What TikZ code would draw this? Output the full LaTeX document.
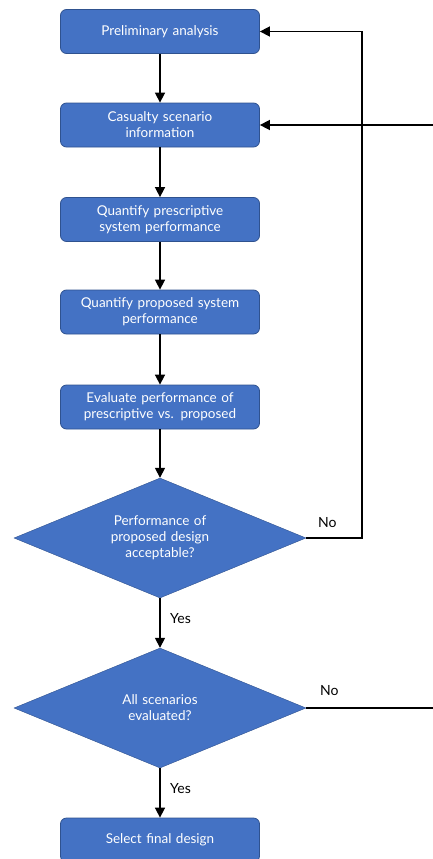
\documentclass[tikz,border=0pt]{standalone}
\usepackage{fontspec}
\setmainfont{Lato}
\usetikzlibrary{shapes.geometric,arrows.meta}

\definecolor{boxblue}{HTML}{4472C4}
\definecolor{boxedge}{HTML}{2F528F}

\tikzstyle{stepbox}=[rectangle, rounded corners=6pt, draw=boxedge, thick, fill=boxblue, text=white, minimum width=199pt, minimum height=44pt, text width=190pt, align=center, inner sep=0pt, font=\fontsize{13.5}{16}\selectfont]
\tikzstyle{check}=[diamond, aspect=2.43, draw=boxedge, fill=boxblue, text=white, minimum width=292pt, minimum height=120pt, text width=130pt, align=center, inner sep=0pt, font=\fontsize{13.5}{16}\selectfont]
\tikzstyle{flow}=[-{Triangle[width=10pt,length=10pt]}, line width=1.6pt]
\tikzstyle{answer}=[anchor=west, inner sep=0pt, font=\fontsize{14}{16}\selectfont]

\begin{document}
\begin{tikzpicture}[x=1pt, y=-1pt]
\useasboundingbox (0,0) rectangle (433,859);
\clip (0,0) rectangle (433,859);

\node[stepbox] (prelim) at (160,31.5) {Preliminary analysis};
\node[stepbox] (casualty) at (160,125) {Casualty scenario\\information};
\node[stepbox] (prescr) at (160,219.5) {Quantify prescriptive\\system performance};
\node[stepbox] (propos) at (160,312) {Quantify proposed system\\performance};
\node[stepbox] (evaluate) at (160,407) {Evaluate performance of\\prescriptive vs. proposed};
\node[check] (accept) at (160,538) {Performance of\\proposed design\\acceptable?};
\node[check] (allscen) at (160,708) {All scenarios\\evaluated?};
\node[stepbox] (final) at (160,840) {Select final design};

\draw[flow] (prelim) -- (casualty);
\draw[flow] (casualty) -- (prescr);
\draw[flow] (prescr) -- (propos);
\draw[flow] (propos) -- (evaluate);
\draw[flow] (evaluate) -- (accept);
\draw[flow] (accept) -- (allscen);
\draw[flow] (allscen) -- (final);

% loops back
\coordinate (backone) at (362,538);
\coordinate (backtwo) at (440,708);
\draw[flow] (accept.east) -- (backone) |- (prelim.east);
\draw[flow] (allscen.east) -- (backtwo) |- (casualty.east);

\node[answer] (noone) at (318,523) {No};
\node[answer] (yesone) at (170,619) {Yes};
\node[answer] (notwo) at (320,691) {No};
\node[answer] (yestwo) at (170,789) {Yes};
\end{tikzpicture}
\end{document}
